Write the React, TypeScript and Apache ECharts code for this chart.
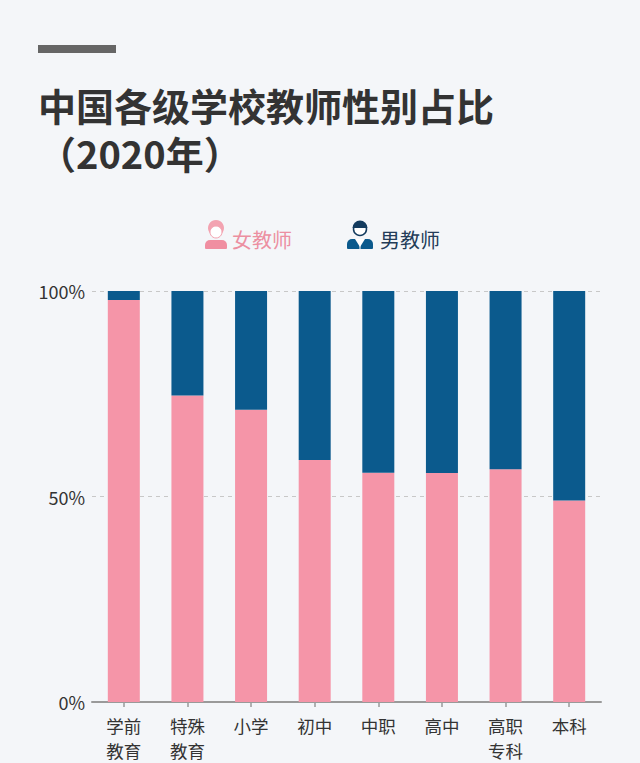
import React, { useEffect, useRef } from "react";
import * as echarts from "echarts";

const categories = ["学前\n教育", "特殊\n教育", "小学", "初中", "中职", "高中", "高职\n专科", "本科"];
const femaleShare = [97.8, 74.6, 71.1, 58.9, 55.8, 55.7, 56.6, 49.0];
const maleShare = femaleShare.map((v) => +(100 - v).toFixed(1));
const yTicks = [0, 50, 100];

const PINK = "#f595a8";
const BLUE = "#0b5a8d";
const FONT = "'Noto Sans CJK SC', 'Noto Sans', sans-serif";

export default function App() {
  const ref = useRef<HTMLDivElement>(null);
  useEffect(() => {
    if (!ref.current) return;
    const chart = echarts.init(ref.current, null, { renderer: "svg" });
    chart.setOption({
      animation: false,
      backgroundColor: "#f4f6f9",
      textStyle: { fontFamily: FONT },
      grid: { left: 92, right: 39, top: 291, bottom: 60, containLabel: false },
      xAxis: {
        type: "category",
        data: categories,
        axisLine: { lineStyle: { color: "#9a9a9a", width: 2 } },
        axisTick: { show: true, alignWithLabel: true, length: 5, lineStyle: { color: "#9a9a9a", width: 1.5 } },
        axisLabel: { color: "#333", fontSize: 17.5, lineHeight: 25, margin: 11, interval: 0, fontFamily: FONT },
      },
      yAxis: {
        type: "value",
        min: yTicks[0],
        max: yTicks[yTicks.length - 1],
        interval: 50,
        axisLine: { show: false },
        axisTick: { show: false },
        axisLabel: { color: "#333", fontSize: 18, margin: 7, formatter: "{value}%", fontFamily: FONT },
        splitLine: { show: true, lineStyle: { color: "#c8c8c8", type: [4, 4], width: 1 } },
      },
      series: [
        {
          name: "女教师",
          type: "bar",
          stack: "total",
          barWidth: 32,
          data: femaleShare,
          itemStyle: { color: PINK },
        },
        {
          name: "男教师",
          type: "bar",
          stack: "total",
          barWidth: 32,
          data: maleShare,
          itemStyle: { color: BLUE },
        },
      ],
      graphic: [
        { type: "rect", shape: { x: 38, y: 45, width: 78, height: 8 }, style: { fill: "#666" } },
        {
          type: "text",
          x: 38,
          y: 80,
          style: {
            text: "中国各级学校教师性别占比\n（2020年）",
            fontSize: 38,
            lineHeight: 48,
            fontWeight: "bold",
            fill: "#333",
            fontFamily: FONT,
            textVerticalAlign: "top",
          },
        },
        // female icon
        { type: "circle", shape: { cx: 216, cy: 228, r: 8 }, style: { fill: "#f3a3b1" } },
        { type: "circle", shape: { cx: 216, cy: 232, r: 6 }, style: { fill: "#fff", stroke: "#f3a3b1", lineWidth: 1 } },
        { type: "rect", shape: { x: 205, y: 240, width: 22, height: 9, r: [5, 5, 1, 1] }, style: { fill: "#f08ea1" } },
        {
          type: "text",
          x: 232,
          y: 239,
          style: { text: "女教师", fontSize: 20, fill: "#ec8fa1", fontFamily: FONT, textVerticalAlign: "middle" },
        },
        // male icon
        { type: "rect", shape: { x: 347, y: 239, width: 26, height: 10, r: [5, 5, 1, 1] }, style: { fill: BLUE } },
        { type: "polygon", shape: { points: [[355, 239], [360, 247], [365, 239]] }, style: { fill: "#fff" } },
        { type: "line", shape: { x1: 360, y1: 242, x2: 360, y2: 249 }, style: { stroke: "#fff", lineWidth: 1 } },
        { type: "circle", shape: { cx: 360, cy: 229, r: 6.5 }, style: { fill: "#fff", stroke: "#133b5e", lineWidth: 1.5 } },
        { type: "sector", shape: { cx: 360, cy: 228, r0: 0, r: 7.5, startAngle: Math.PI, endAngle: Math.PI * 2 }, style: { fill: "#133b5e" } },
        {
          type: "text",
          x: 380,
          y: 239,
          style: { text: "男教师", fontSize: 20, fill: "#233c58", fontFamily: FONT, textVerticalAlign: "middle" },
        },
      ],
    });
    return () => chart.dispose();
  }, []);
  return (
    <div
      ref={ref}
      style={{ position: "fixed", left: 0, top: 0, width: 640, height: 763, background: "#f4f6f9" }}
    />
  );
}
